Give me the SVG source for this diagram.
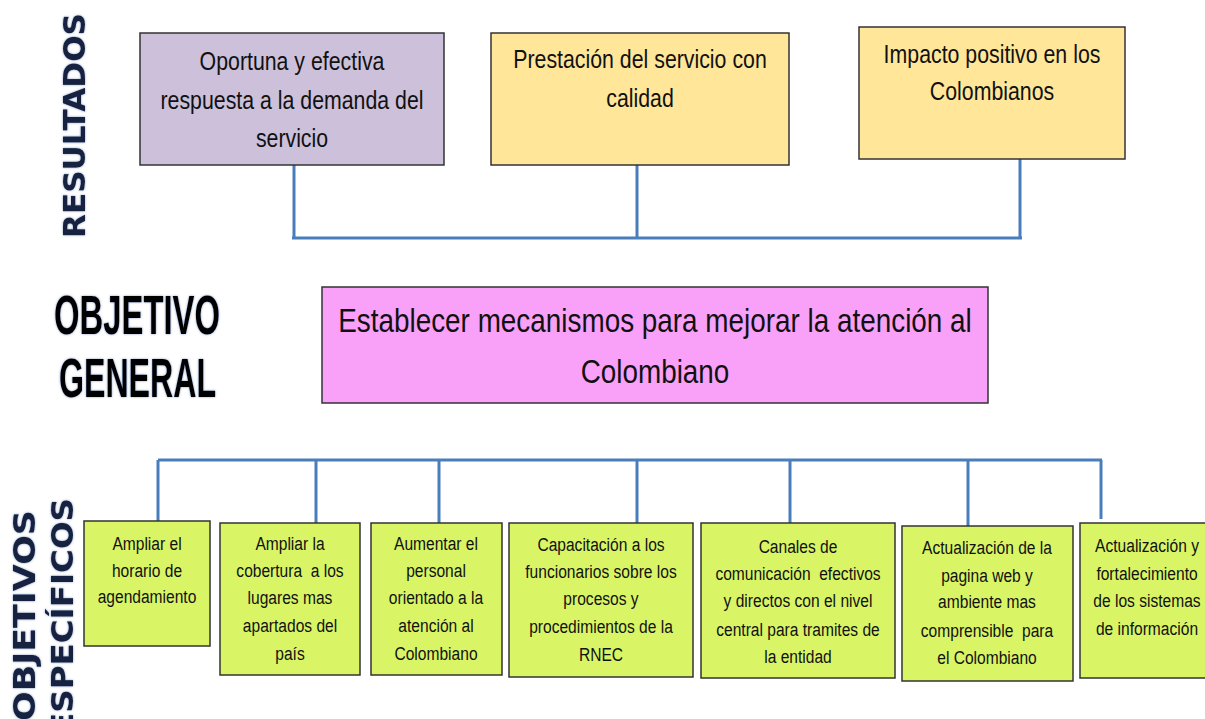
<svg xmlns="http://www.w3.org/2000/svg" width="1205" height="719" viewBox="0 0 1205 719">
<style>
.box{stroke:#333;stroke-width:1.5}
.res{fill:#CCC0DA}
.yel{fill:#FFE699}
.pink{fill:#F9A1F9}
.grn{fill:#D9F566}
.t{font-family:"Liberation Sans",Arial,sans-serif;fill:#111;text-anchor:middle}
.big{font-size:26px}
.gen{font-size:34px}
.sm{font-size:19px}
.hdr{font-family:"DejaVu Sans","Liberation Sans",sans-serif;font-weight:bold;fill:#16223F;font-size:31px}
.hd2{font-family:"Liberation Sans",sans-serif;font-weight:bold;fill:#050505;font-size:55px}
.con{stroke:#4A7EBB;stroke-width:3;fill:none}
</style>
<rect width="1205" height="719" fill="#fff"/>
<defs>
<filter id="glow" x="-20%" y="-20%" width="140%" height="140%">
<feGaussianBlur in="SourceAlpha" stdDeviation="1.2" result="b"/>
<feFlood flood-color="#3a5a9a" flood-opacity="0.6"/>
<feComposite in2="b" operator="in" result="g"/>
<feMerge><feMergeNode in="g"/><feMergeNode in="SourceGraphic"/></feMerge>
</filter>
</defs>

<g id="labels">
<text class="hdr" filter="url(#glow)" transform="translate(85,238) rotate(-90)" textLength="225" lengthAdjust="spacingAndGlyphs">RESULTADOS</text>
<text class="hd2" filter="url(#glow)" x="54" y="334" textLength="166" lengthAdjust="spacingAndGlyphs">OBJETIVO</text>
<text class="hd2" filter="url(#glow)" x="59" y="397" textLength="157" lengthAdjust="spacingAndGlyphs">GENERAL</text>
<text class="hdr" filter="url(#glow)" transform="translate(35,721) rotate(-90)" textLength="211" lengthAdjust="spacingAndGlyphs">OBJETIVOS</text>
<text class="hdr" filter="url(#glow)" transform="translate(73,735) rotate(-90)" textLength="237" lengthAdjust="spacingAndGlyphs">ESPECÍFICOS</text>
</g>

<g id="connectors">
<path class="con" d="M294,165 V238 M637,165 V238 M1020,159 V238 M292,238 H1022"/>
<path class="con" d="M158,460 H1102 M158,460 V521 M316,460 V523 M439,460 V523 M637,460 V532 M790,460 V523 M968,460 V526 M1101,460 V519"/>
</g>

<g id="r1">
<rect class="box res" x="140" y="33" width="304" height="132"/>
<g transform="translate(292,0) scale(0.82,1)">
<text class="t big" x="0" y="70">Oportuna y efectiva</text>
<text class="t big" x="0" y="109">respuesta a la demanda del</text>
<text class="t big" x="0" y="147">servicio</text>
</g>
</g>
<g id="r2">
<rect class="box yel" x="491" y="33" width="298" height="132"/>
<g transform="translate(640,0) scale(0.82,1)">
<text class="t big" x="0" y="68">Prestación del servicio con</text>
<text class="t big" x="0" y="107">calidad</text>
</g>
</g>
<g id="r3">
<rect class="box yel" x="859" y="27" width="266" height="132"/>
<g transform="translate(992,0) scale(0.82,1)">
<text class="t big" x="0" y="63">Impacto positivo en los</text>
<text class="t big" x="0" y="100">Colombianos</text>
</g>
</g>

<g id="general">
<rect class="box pink" x="322" y="287" width="666" height="116"/>
<g transform="translate(655,0) scale(0.82,1)">
<text class="t gen" x="0" y="332">Establecer mecanismos para mejorar la atención al</text>
<text class="t gen" x="0" y="383">Colombiano</text>
</g>
</g>

<g id="e1">
<rect class="box grn" x="84" y="521" width="126" height="125"/>
<g transform="translate(147,0) scale(0.82,1)">
<text class="t sm" x="0" y="550">Ampliar el</text>
<text class="t sm" x="0" y="577">horario de</text>
<text class="t sm" x="0" y="603">agendamiento</text>
</g>
</g>
<g id="e2">
<rect class="box grn" x="220" y="523" width="140" height="152"/>
<g transform="translate(290,0) scale(0.82,1)">
<text class="t sm" x="0" y="550">Ampliar la</text>
<text class="t sm" x="0" y="577" xml:space="preserve">cobertura  a los</text>
<text class="t sm" x="0" y="604">lugares mas</text>
<text class="t sm" x="0" y="632">apartados del</text>
<text class="t sm" x="0" y="660">país</text>
</g>
</g>
<g id="e3">
<rect class="box grn" x="371" y="523" width="131" height="152"/>
<g transform="translate(436,0) scale(0.82,1)">
<text class="t sm" x="0" y="550">Aumentar el</text>
<text class="t sm" x="0" y="577">personal</text>
<text class="t sm" x="0" y="604">orientado a la</text>
<text class="t sm" x="0" y="632">atención al</text>
<text class="t sm" x="0" y="660">Colombiano</text>
</g>
</g>
<g id="e4">
<rect class="box grn" x="509" y="523" width="184" height="154"/>
<g transform="translate(601,0) scale(0.82,1)">
<text class="t sm" x="0" y="551">Capacitación a los</text>
<text class="t sm" x="0" y="578">funcionarios sobre los</text>
<text class="t sm" x="0" y="605">procesos y</text>
<text class="t sm" x="0" y="633">procedimientos de la</text>
<text class="t sm" x="0" y="661">RNEC</text>
</g>
</g>
<g id="e5">
<rect class="box grn" x="701" y="523" width="194" height="155"/>
<g transform="translate(798,0) scale(0.82,1)">
<text class="t sm" x="0" y="553">Canales de</text>
<text class="t sm" x="0" y="580" xml:space="preserve">comunicación  efectivos</text>
<text class="t sm" x="0" y="607">y directos con el nivel</text>
<text class="t sm" x="0" y="636">central para tramites de</text>
<text class="t sm" x="0" y="663">la entidad</text>
</g>
</g>
<g id="e6">
<rect class="box grn" x="902" y="526" width="171" height="155"/>
<g transform="translate(987,0) scale(0.82,1)">
<text class="t sm" x="0" y="554">Actualización de la</text>
<text class="t sm" x="0" y="582">pagina web y</text>
<text class="t sm" x="0" y="608">ambiente mas</text>
<text class="t sm" x="0" y="637" xml:space="preserve">comprensible  para</text>
<text class="t sm" x="0" y="664">el Colombiano</text>
</g>
</g>
<g id="e7">
<rect class="box grn" x="1080" y="523" width="140" height="155"/>
<g transform="translate(1147,0) scale(0.82,1)">
<text class="t sm" x="0" y="552">Actualización y</text>
<text class="t sm" x="0" y="580">fortalecimiento</text>
<text class="t sm" x="0" y="607">de los sistemas</text>
<text class="t sm" x="0" y="635">de información</text>
</g>
</g>
</svg>
